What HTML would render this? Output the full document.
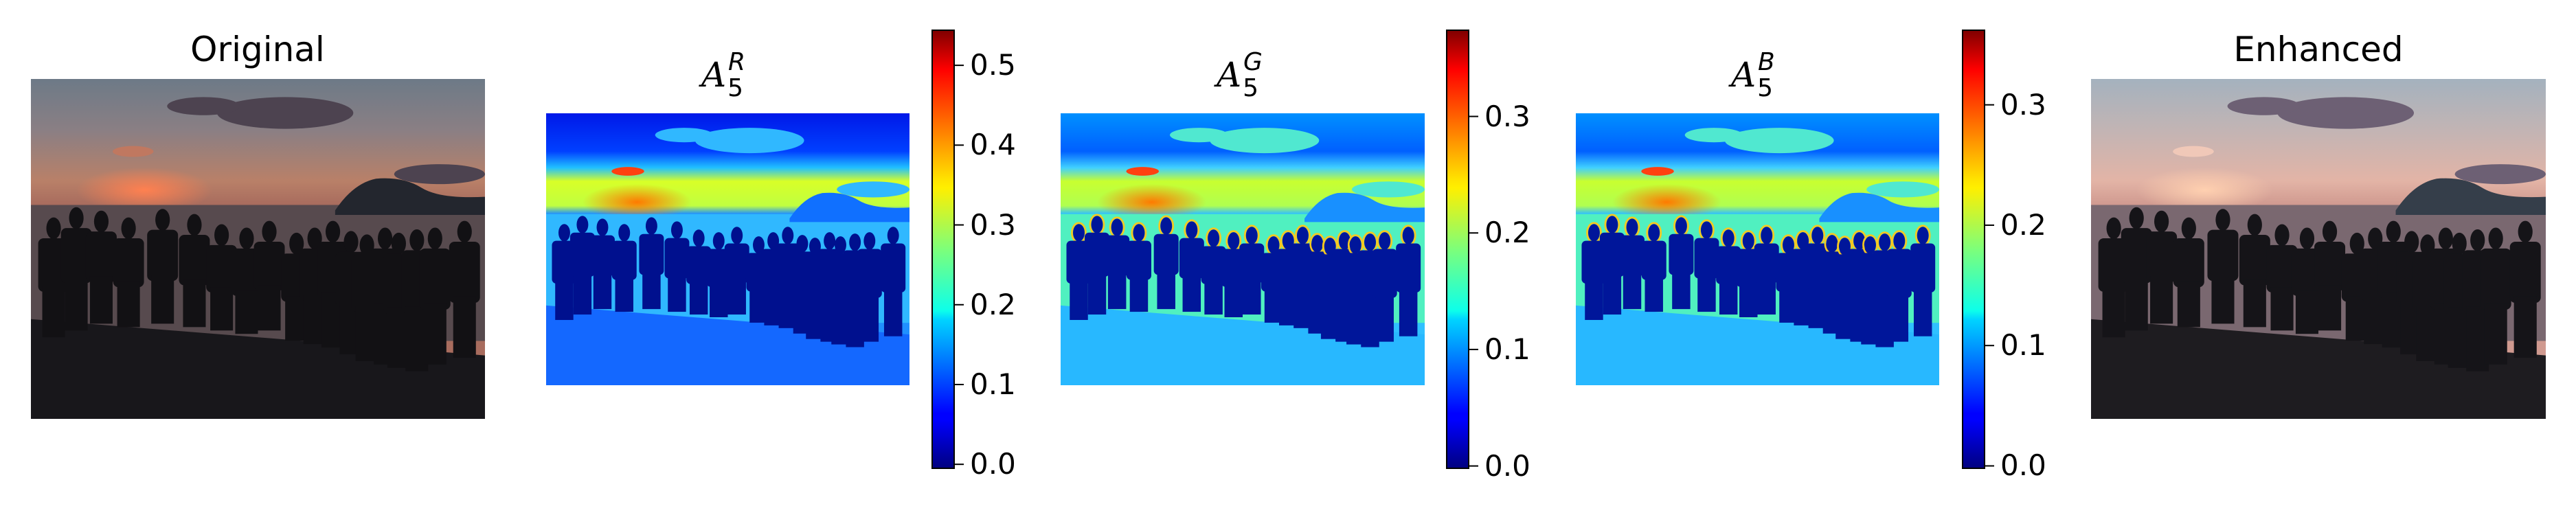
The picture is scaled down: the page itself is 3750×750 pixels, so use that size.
<!DOCTYPE html>
<html><head><meta charset="utf-8">
<style>
html,body{margin:0;padding:0;background:#fff;}
#root{position:relative;width:3750px;height:750px;overflow:hidden;font-family:"DejaVu Sans","Liberation Sans",sans-serif;}
.title{position:absolute;font-size:50px;color:#000;text-align:center;white-space:nowrap;}
.ttl-math{position:absolute;font-family:"DejaVu Serif","Liberation Serif",serif;font-style:italic;font-size:50px;color:#000;}
.tick{position:absolute;font-size:42px;color:#000;}
svg{position:absolute;}
</style></head>
<body>
<div id="root"></div>
<script>
// colorbar data
const cbarRTicks = [0.0, 0.1, 0.2, 0.3, 0.4, 0.5];
const cbarRRange = [-0.005, 0.544];
const cbarGTicks = [0.0, 0.1, 0.2, 0.3];
const cbarGRange = [-0.002, 0.374];
const cbarBTicks = [0.0, 0.1, 0.2, 0.3];
const cbarBRange = [-0.002, 0.362];
// scene: people x centres (fraction of width) and head top / feet (fraction of height)
const peopleX = [0.05,0.1,0.155,0.215,0.29,0.36,0.42,0.475,0.525,0.585,0.625,0.665,0.705,0.74,0.78,0.81,0.85,0.89,0.955];
const peopleTop = [0.41,0.38,0.39,0.41,0.385,0.4,0.43,0.44,0.42,0.455,0.44,0.42,0.45,0.46,0.44,0.455,0.445,0.44,0.42];
const peopleFeet = [0.76,0.74,0.72,0.73,0.72,0.73,0.74,0.75,0.74,0.77,0.78,0.79,0.81,0.83,0.84,0.85,0.86,0.84,0.82];

const root = document.getElementById('root');
const NS = 'http://www.w3.org/2000/svg';
function mk(tag, attrs, parent){const e=document.createElementNS(NS,tag);for(const k in attrs)e.setAttribute(k,attrs[k]);if(parent)parent.appendChild(e);return e;}

function scene(x,y,w,h,pal,name){
  const s=mk('svg',{width:w,height:h,viewBox:'0 0 1000 750',preserveAspectRatio:'none'});
  s.style.left=x+'px';s.style.top=y+'px';
  
  
  root.appendChild(s);
  const id=name;
  const defs=mk('defs',{},s);
  const g=mk('linearGradient',{id:id+'sky',x1:0,y1:0,x2:0,y2:1},defs);
  pal.sky.forEach(([o,c])=>mk('stop',{offset:o,'stop-color':c},g));
  const rg=mk('radialGradient',{id:id+'sun'},defs);
  mk('stop',{offset:0,'stop-color':pal.sun},rg);mk('stop',{offset:1,'stop-color':pal.sun,'stop-opacity':0},rg);
  mk('rect',{x:0,y:0,width:1000,height:750,fill:'url(#'+id+'sky)'},s);
  // clouds
  mk('ellipse',{cx:560,cy:75,rx:150,ry:35,fill:pal.cloud},s);
  mk('ellipse',{cx:380,cy:60,rx:80,ry:20,fill:pal.cloud},s);
  mk('ellipse',{cx:225,cy:160,rx:45,ry:12,fill:pal.cloud2},s);
  mk('ellipse',{cx:900,cy:210,rx:100,ry:22,fill:pal.cloud},s);
  mk('ellipse',{cx:250,cy:245,rx:150,ry:50,fill:'url(#'+id+'sun)'},s);
  // sea
  mk('rect',{x:0,y:278,width:1000,height:300,fill:pal.sea},s);
  // mountain
  mk('path',{d:'M670 290 Q710 230 760 220 Q820 215 860 240 Q900 265 1000 260 L1000 300 L670 300 Z',fill:pal.mount},s);
  // ground
  mk('path',{d:'M0 530 L1000 610 L1000 750 L0 750 Z',fill:pal.ground},s);
  // people
  peopleX.forEach((px,i)=>{
    const cx=px*1000,top=peopleTop[i]*750,feet=peopleFeet[i]*750;
    const p=mk('g',{},s);
    
    
    if(pal.outline) mk('ellipse',{cx:cx,cy:top+22,rx:19,ry:27,fill:'none',stroke:pal.outline,'stroke-width':5},p);
    mk('ellipse',{cx:cx,cy:top+22,rx:16,ry:24,fill:pal.person},p);
    mk('rect',{x:cx-34,y:top+44,width:68,height:(feet-top)*0.45,rx:12,fill:pal.person},p);
    mk('rect',{x:cx-25,y:top+44+(feet-top)*0.4,width:50,height:(feet-top)*0.6-44,fill:pal.person},p);
  });
  return s;
}

function title(text,cx,y,name){
  const d=document.createElement('div');d.className='title';d.textContent=text;
  d.style.left=(cx-200)+'px';d.style.width='400px';d.style.top=y+'px';
  
  
  root.appendChild(d);
}
function mathTitle(sup,cx,name){
  const d=document.createElement('div');d.className='ttl-math';
  d.innerHTML='<span style="font-family:\'DejaVu Serif\',serif">A</span><span style="position:relative;font-style:normal;font-family:\'DejaVu Sans\',sans-serif;font-size:36px;top:14px;margin-left:2px">5</span><span style="position:relative;font-family:\'DejaVu Sans\',sans-serif;font-size:36px;top:-24px;margin-left:-22px">'+sup+'</span>';
  d.style.left=(cx-38)+'px';d.style.top='80px';
  
  
  root.appendChild(d);
}

const jet=[[0,'#00007f'],[0.11,'#0000ff'],[0.125,'#0000ff'],[0.34,'#00d4ff'],[0.36,'#0dffea'],[0.5,'#7dff7a'],[0.64,'#ffef00'],[0.66,'#ffe200'],[0.89,'#ff1300'],[0.91,'#f00'],[1,'#7f0000']];

function colorbar(x,top,bot,w,ticks,range,name){
  const s=mk('svg',{width:w+120,height:bot-top+40});
  s.style.left=x+'px';s.style.top=(top-20)+'px';
  
  
  root.appendChild(s);
  const defs=mk('defs',{},s);
  const g=mk('linearGradient',{id:name+'g',x1:0,y1:1,x2:0,y2:0},defs);
  jet.forEach(([o,c])=>mk('stop',{offset:o,'stop-color':c},g));
  const H=bot-top;
  mk('rect',{x:1,y:20,width:w-2,height:H,fill:'url(#'+name+'g)',stroke:'#000','stroke-width':2},s);
  const yOf=v=>20+H-(v-range[0])/(range[1]-range[0])*H;
  ticks.forEach(t=>{
    const yy=yOf(t);
    const l=mk('line',{x1:w-1,x2:w+13,y1:yy,y2:yy,stroke:'#000','stroke-width':2},s);
    
    
    const d=document.createElement('div');d.className='tick';d.textContent=t.toFixed(1);
    d.style.left=(x+w+22)+'px';d.style.top=(top-20+yy-25)+'px';
    
    
    root.appendChild(d);
  });
}

// photos
scene(45,115,661,495,{sky:[[0,'#6d7a87'],[0.15,'#8a7f84'],[0.3,'#b98068'],[0.37,'#a86c5e']],sun:'#ff8050',cloud:'#4d4350',cloud2:'#c07860',mount:'#23262e',sea:'#574a4e',ground:'#18171b',person:'#121114'},'original-image');
scene(3044,115,662,495,{sky:[[0,'#a4b2be'],[0.15,'#c2b4b4'],[0.3,'#e3b4a6'],[0.37,'#d09a90']],sun:'#ffd0b0',cloud:'#6d6074',cloud2:'#f0c8b8',mount:'#353e4a',sea:'#7a6870',ground:'#1e1c20',person:'#151418'},'enhanced-image');
// heatmaps
scene(795,165,529,396,{sky:[[0,'#0018e8'],[0.14,'#0040ff'],[0.2,'#20c0ff'],[0.25,'#d8ff28'],[0.34,'#c0ff40'],[0.37,'#2090ff']],sun:'#ff7a00',cloud:'#30b8ff',cloud2:'#ff4010',mount:'#1070ff',sea:'#30b8ff',ground:'#1468ff',person:'#00108e'},'heatmap-r');
scene(1544,165,530,396,{sky:[[0,'#0090ff'],[0.14,'#0060ff'],[0.2,'#40d0ff'],[0.25,'#c8ff30'],[0.34,'#b0ff50'],[0.37,'#30c0ff']],sun:'#ff7a00',cloud:'#50e8d0',cloud2:'#ff4010',mount:'#1890ff',sea:'#50f0c0',ground:'#28b8ff',person:'#00169a',outline:'#f6c820'},'heatmap-g');
scene(2294,165,529,396,{sky:[[0,'#0090ff'],[0.14,'#0060ff'],[0.2,'#40d0ff'],[0.25,'#c8ff30'],[0.34,'#b0ff50'],[0.37,'#30c0ff']],sun:'#ff7a00',cloud:'#50e8d0',cloud2:'#ff4010',mount:'#1890ff',sea:'#50f0c0',ground:'#28b8ff',person:'#00169a',outline:'#f6c820'},'heatmap-b');

colorbar(1356,44,682,34,cbarRTicks,cbarRRange,'colorbar-r');
colorbar(2105,44,682,34,cbarGTicks,cbarGRange,'colorbar-g');
colorbar(2856,44,682,34,cbarBTicks,cbarBRange,'colorbar-b');

title('Original',375,43,'original-title');
title('Enhanced',3375,43,'enhanced-title');
mathTitle('R',1059,'heatmap-r-title');
mathTitle('G',1809,'heatmap-g-title');
mathTitle('B',2558,'heatmap-b-title');
</script>
</body></html>
